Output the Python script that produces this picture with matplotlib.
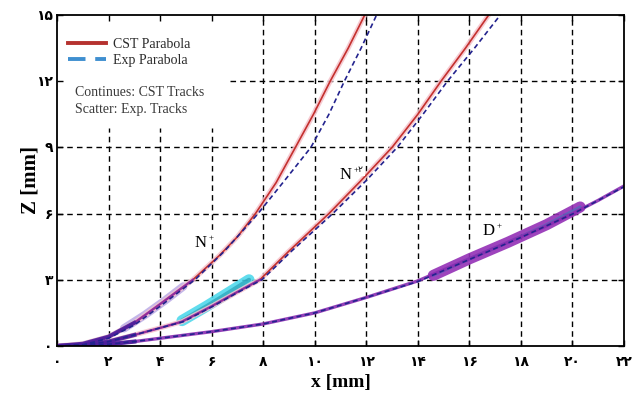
import numpy as np
import matplotlib
matplotlib.use("Agg")
import matplotlib.pyplot as plt
from matplotlib.lines import Line2D

# ---------------- data ----------------
x_ticks = [0, 2, 4, 6, 8, 10, 12, 14, 16, 18, 20, 22]
x_tick_labels = ["۰", "۲", "۴", "۶", "۸", "۱۰", "۱۲", "۱۴", "۱۶", "۱۸", "۲۰", "۲۲"]
z_ticks = [0, 3, 6, 9, 12, 15]
z_tick_labels = ["۰", "۳", "۶", "۹", "۱۲", "۱۵"]

# N+ : CST parabola / Exp parabola
np_cst_x = [0.0, 1.0, 2.0, 3.0, 4.0, 5.27, 6.3, 7.0, 7.7, 8.5, 9.25, 9.95, 10.6, 11.3, 11.94]
np_cst_z = [0.0, 0.1, 0.42, 1.05, 1.9, 3.0, 4.1, 4.95, 6.0, 7.4, 9.0, 10.5, 12.0, 13.5, 15.0]
np_exp_x = [0.0, 1.0, 2.0, 3.0, 4.0, 5.35, 6.5, 7.8, 8.9, 9.85, 10.55, 11.15, 11.8, 12.4]
np_exp_z = [0.0, 0.05, 0.35, 0.95, 1.8, 3.0, 4.3, 6.0, 7.6, 9.0, 10.5, 12.0, 13.5, 15.0]
np_scatter_x = [2.6, 3.4, 4.2, 4.9]
np_scatter_z = [0.8, 1.4, 2.07, 2.7]

# N+2
n2_cst_x = [0.0, 1.0, 2.0, 3.0, 4.0, 4.84, 6.0, 7.0, 7.87, 9.0, 10.55, 11.8, 13.0, 14.0, 14.9, 15.85, 16.75]
n2_cst_z = [0.0, 0.04, 0.2, 0.5, 0.82, 1.1, 1.8, 2.45, 3.0, 4.3, 6.0, 7.5, 9.0, 10.5, 12.0, 13.5, 15.0]
n2_exp_x = [0.0, 1.0, 2.0, 3.0, 4.0, 4.9, 6.05, 7.05, 7.95, 9.1, 10.7, 12.0, 13.2, 14.2, 15.15, 16.2, 17.2]
n2_exp_z = [0.0, 0.04, 0.2, 0.5, 0.82, 1.1, 1.8, 2.45, 3.0, 4.3, 6.0, 7.5, 9.0, 10.5, 12.0, 13.5, 15.0]
n2_scatter_x = [4.85, 5.8, 6.7, 7.45]
n2_scatter_z = [1.15, 1.8, 2.45, 3.0]

# D+
d_cst_x = [0.0, 1.0, 2.0, 3.0, 4.0, 6.0, 8.0, 10.0, 12.0, 14.0, 15.0, 16.0, 17.0, 18.0, 19.0, 20.0, 21.0, 22.0]
d_cst_z = [0.0, 0.02, 0.08, 0.2, 0.35, 0.65, 1.0, 1.5, 2.2, 2.95, 3.45, 3.95, 4.45, 4.95, 5.45, 6.0, 6.6, 7.25]
d_exp_x = [0.0, 1.0, 2.0, 3.0, 4.0, 6.0, 8.0, 10.0, 12.0, 14.0, 16.0, 18.0, 20.0, 22.0]
d_exp_z = [0.0, 0.02, 0.08, 0.2, 0.35, 0.65, 1.0, 1.5, 2.2, 2.92, 3.92, 4.92, 5.98, 7.22]
d_scatter_x = [14.6, 16.0, 17.5, 19.0, 20.3]
d_scatter_z = [3.2, 3.95, 4.7, 5.5, 6.3]

# ---------------- styling ----------------
SERIF = ["Liberation Serif", "DejaVu Serif"]
TICKF = ["Liberation Serif", "DejaVu Sans"]
RED = "#c4302e"
HALO = "#f5c2cb"
NAVY = "#23238e"
PURPLE = "#8a2cb2"
DARKP = "#4b1e9c"

fig = plt.figure(figsize=(6.37, 3.98), dpi=100)
ax = fig.add_axes([57 / 637, 52 / 398, 567 / 637, 331 / 398])
ax.set_xlim(0, 22)
ax.set_ylim(0, 15)

# grid (interrupted by the white legend area)
gkw = dict(color="black", lw=1.0, ls=(0, (4, 3)), zorder=1)
box_ymax = 0.659
box_xmin = 0.305
for xt in x_ticks[1:-1]:
    if xt <= 6:
        ax.axvline(xt, ymin=0, ymax=box_ymax, **gkw)
    else:
        ax.axvline(xt, **gkw)
for zt in z_ticks[1:-1]:
    if zt >= 12:
        ax.axhline(zt, xmin=box_xmin, xmax=1, **gkw)
    else:
        ax.axhline(zt, **gkw)

def arr(a):
    return np.asarray(a, dtype=float)

# scatter (experimental tracks) blobs
ax.plot(np_scatter_x, np_scatter_z, color="#b9a9e6", lw=6.0, alpha=0.85,
        solid_capstyle="round", zorder=2)
ax.plot(n2_scatter_x, n2_scatter_z, color="#45d6ea", lw=8, alpha=0.85,
        solid_capstyle="round", zorder=2)
ax.plot(n2_scatter_x, n2_scatter_z, color="#2aa2b8", lw=3, alpha=0.7,
        solid_capstyle="round", zorder=2.1)
ax.plot(d_scatter_x, d_scatter_z, color="#9430b6", lw=8.0, alpha=0.9,
        solid_capstyle="round", zorder=2)
ax.plot(d_scatter_x, d_scatter_z, color="#4a6fb8", lw=2.2, alpha=0.7,
        solid_capstyle="round", zorder=2.1)

# CST parabolas with pink halo
for cx, cz in [(np_cst_x, np_cst_z), (n2_cst_x, n2_cst_z)]:
    ax.plot(cx, cz, color=HALO, lw=3.6, alpha=0.85, zorder=2.5,
            solid_capstyle="round")
    ax.plot(cx, cz, color=RED, lw=1.2, zorder=3)

# continuous CST tracks (purple), lower parts and D+
for cx, cz, lim in [(np_cst_x, np_cst_z, 5.3), (n2_cst_x, n2_cst_z, 8.0)]:
    cx, cz = arr(cx), arr(cz)
    m = cx <= lim
    ax.plot(cx[m], cz[m], color=PURPLE, lw=1.8, alpha=0.8, zorder=3.1)
ax.plot(d_cst_x, d_cst_z, color=PURPLE, lw=2.4, alpha=0.9, zorder=3.1)
for cx, cz in [(np_cst_x, np_cst_z), (n2_cst_x, n2_cst_z), (d_cst_x, d_cst_z)]:
    cx, cz = arr(cx), arr(cz)
    m = cx <= 3.0
    ax.plot(cx[m], cz[m], color=DARKP, lw=3.0, alpha=0.9, zorder=3.2)

# experimental parabolas (navy dashed)
for ex, ez in [(np_exp_x, np_exp_z), (n2_exp_x, n2_exp_z), (d_exp_x, d_exp_z)]:
    ax.plot(ex, ez, color=NAVY, lw=1.2, ls=(0, (3, 2)), zorder=4)

# white legend area
ax.add_patch(plt.Rectangle((0, box_ymax), box_xmin, 1 - box_ymax,
                           transform=ax.transAxes, facecolor="white",
                           edgecolor="none", zorder=1.2))

# legend
handles = [Line2D([], [], color="#b5322f", lw=2.8),
           Line2D([], [], color="#3f8fd0", lw=2.8, ls=(0, (4.5, 2.5)))]
leg = ax.legend(handles, ["CST Parabola", "Exp Parabola"], loc="upper left",
                bbox_to_anchor=(0.0, 0.965), frameon=False, handlelength=2.7,
                handletextpad=0.55, labelspacing=0.25, borderaxespad=0.4,
                prop={"family": SERIF, "size": 10})
for t in leg.get_texts():
    t.set_color("#2a2a2a")
ax.text(0.032, 0.74, "Continues: CST Tracks\nScatter: Exp. Tracks",
        transform=ax.transAxes, family=SERIF, fontsize=10, color="#3a3a3a",
        linespacing=1.45, va="center", ha="left", zorder=6)

# particle labels
bb = dict(facecolor="white", edgecolor="none", pad=1.2)
for (lx, lz, main, sup) in [(5.55, 4.65, "N", "+"), (11.2, 7.75, "N", "+۲"), (16.75, 5.2, "D", "+")]:
    t = ax.text(lx, lz, main, family=SERIF, fontsize=12, ha="center",
                va="center", bbox=bb, zorder=6)
    ax.annotate(sup, xy=(1.0, 0.8), xycoords=t, xytext=(1.5, 0),
                textcoords="offset points", family=TICKF, fontsize=6.5,
                ha="left", va="center", zorder=7,
                bbox=dict(facecolor="white", edgecolor="none", pad=1.0))

# axes formatting
ax.set_xticks(x_ticks)
ax.set_xticklabels(x_tick_labels, family=TICKF, fontsize=10, fontweight="bold")
ax.set_yticks(z_ticks)
ax.set_yticklabels(z_tick_labels, family=TICKF, fontsize=10, fontweight="bold")
ax.tick_params(direction="in", top=True, right=True, length=4, width=1)
ax.tick_params(axis="x", pad=7)
ax.tick_params(axis="y", pad=3)
for s in ax.spines.values():
    s.set_linewidth(1.3)
    s.set_zorder(8)

ax.set_xlabel("x [mm]", family=SERIF, fontsize=14, fontweight="bold", labelpad=4)
ax.set_ylabel("Z [mm]", family=SERIF, fontsize=15, fontweight="bold", labelpad=-3)

fig.savefig("out.png", dpi=100)
